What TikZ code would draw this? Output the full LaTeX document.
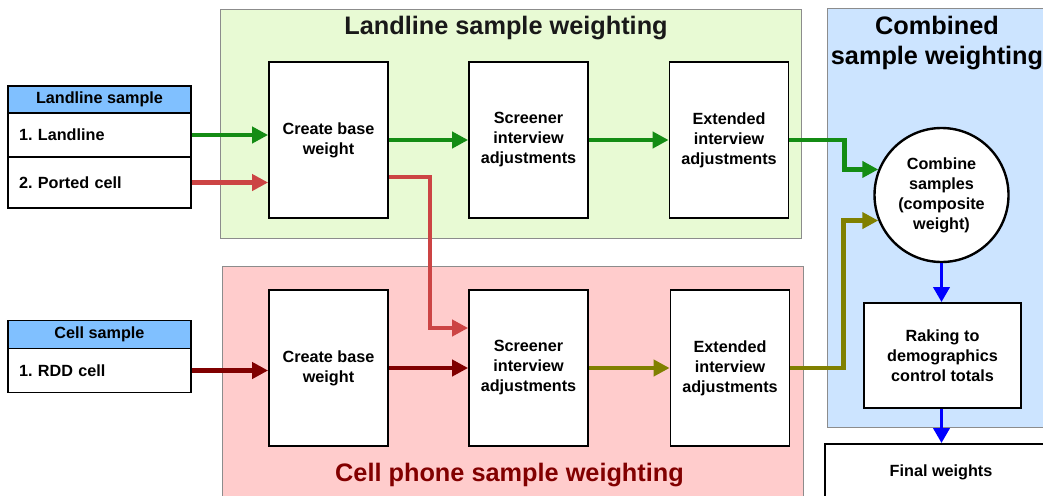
\documentclass[tikz,border=0pt]{standalone}
\usepackage{fontspec}
\setmainfont{Liberation Sans}
\usetikzlibrary{arrows.meta,calc}
\definecolor{greenfill}{RGB}{232,250,212}
\definecolor{redfill}{RGB}{255,204,204}
\definecolor{bluefill}{RGB}{204,228,255}
\definecolor{hdrblue}{RGB}{128,192,255}
\definecolor{arrgreen}{RGB}{20,140,20}
\definecolor{arrlred}{RGB}{204,68,68}
\definecolor{arrdred}{RGB}{128,0,0}
\definecolor{arrolive}{RGB}{128,128,0}
\definecolor{arrblue}{RGB}{0,0,255}
\definecolor{titlered}{RGB}{130,0,0}
\definecolor{panelgray}{RGB}{140,140,140}
\frenchspacing
\begin{document}
\begin{tikzpicture}[x=1pt,y=-1pt,
  panel/.style={draw=panelgray, line width=0.9pt},
  boxtext/.style={font=\bfseries\fontsize{16.2}{20}\selectfont},
  proc/.style={boxtext, draw=black, line width=1.8pt, fill=white, minimum width=119pt, minimum height=156pt, align=center, inner sep=2pt},
  hdr/.style={boxtext, draw=black, line width=1.8pt, fill=hdrblue, minimum width=183pt, align=center, inner sep=2pt},
  rowcell/.style={boxtext, draw=black, line width=1.8pt, fill=white, text width=161pt, inner xsep=11pt, inner ysep=2pt, align=left},
  ptitle/.style={font=\bfseries\fontsize{25.3}{30}\selectfont, align=center, inner sep=0pt},
  arr/.style={line width=4.2pt, -{Triangle[length=16pt,width=16pt]}},
  barr/.style={line width=3.6pt, draw=arrblue, -{Triangle[length=15pt,width=16pt]}},
]
\useasboundingbox (0,0) rectangle (1043,495);
\clip (0,0) rectangle (1043,495);
\fill[white] (0,0) rectangle (1043,495);

% panels
\node[panel, fill=greenfill, minimum width=581pt, minimum height=229pt, inner sep=0pt] (pland) at (510.5,123.5) {};
\node[panel, fill=redfill, minimum width=581pt, minimum height=240pt, inner sep=0pt] (pcell) at (512.5,386) {};
\node[panel, fill=bluefill, minimum width=225pt, minimum height=419pt, inner sep=0pt] (pcomb) at (939.5,217.5) {};

% titles
\node[ptitle, text={rgb,255:red,25;green,25;blue,25}] (tland) at (506,28) {Landline sample weighting};
\node[ptitle, text=titlered] (tcell) at (509.5,475) {Cell phone sample weighting};
\node[ptitle, text=black] (tcomb) at (937,43) {Combined\\sample weighting};

% sample tables
\node[hdr, minimum height=27pt] (lsHead) at (99.5,99.5) {Landline sample};
\node[rowcell, minimum height=44pt] (lsRow1) at (99.5,135) {1. Landline};
\node[rowcell, minimum height=51pt] (lsRow2) at (99.5,182.5) {2. Ported cell};
\node[hdr, minimum height=28pt] (csHead) at (99.5,334.5) {Cell sample};
\node[rowcell, minimum height=44pt] (csRow1) at (99.5,370.5) {1. RDD cell};

% process boxes
\node[proc] (cbL) at (328.5,140) {Create base\\weight};
\node[proc] (scL) at (528.5,140) {Screener\\interview\\adjustments};
\node[proc] (exL) at (729,140) {Extended\\interview\\adjustments};
\node[proc] (cbC) at (328.5,368) {Create base\\weight};
\node[proc] (scC) at (528.5,368) {Screener\\interview\\adjustments};
\node[proc] (exC) at (730,368) {Extended\\interview\\adjustments};

% combined
\node[boxtext, circle, draw=black, line width=2.4pt, fill=white, minimum size=134pt, align=center, inner sep=0pt] (circ) at (941.5,195) {Combine\\samples\\(composite\\weight)};
\node[boxtext, draw=black, line width=1.8pt, fill=white, minimum width=157pt, minimum height=105pt, align=center] (rake) at (942.5,355.5) {Raking to\\demographics\\control totals};
\node[boxtext, draw=black, line width=1.8pt, fill=white, minimum width=232pt, minimum height=56pt, align=center] (final) at (941,472) {Final weights};

% arrows
\draw[arr, draw=arrgreen] (lsRow1.east) -- (lsRow1.east -| cbL.west);
\draw[arr, draw=arrlred] (lsRow2.east) -- (lsRow2.east -| cbL.west);
\draw[arr, draw=arrgreen] (cbL.east) -- (scL.west);
\draw[arr, draw=arrgreen] (scL.east) -- (exL.west);
\draw[arr, draw=arrlred] ([yshift=-37pt]cbL.east) -- ++(41,0) |- ([yshift=40pt]scC.west);
\draw[arr, draw=arrdred] (csRow1.east) -- (csRow1.east -| cbC.west);
\draw[arr, draw=arrdred] (cbC.east) -- (scC.west);
\draw[arr, draw=arrolive] (scC.east) -- (exC.west);
\draw[arr, draw=arrgreen] (exL.east) -- ++(55,0) |- (circ.158);
\draw[arr, draw=arrolive] (exC.east) -- ++(53,0) |- (circ.202);
\draw[barr] (circ.south) -- (circ.south |- rake.north);
\draw[barr] (rake.south -| circ.south) -- (circ.south |- final.north);
\end{tikzpicture}
\end{document}
